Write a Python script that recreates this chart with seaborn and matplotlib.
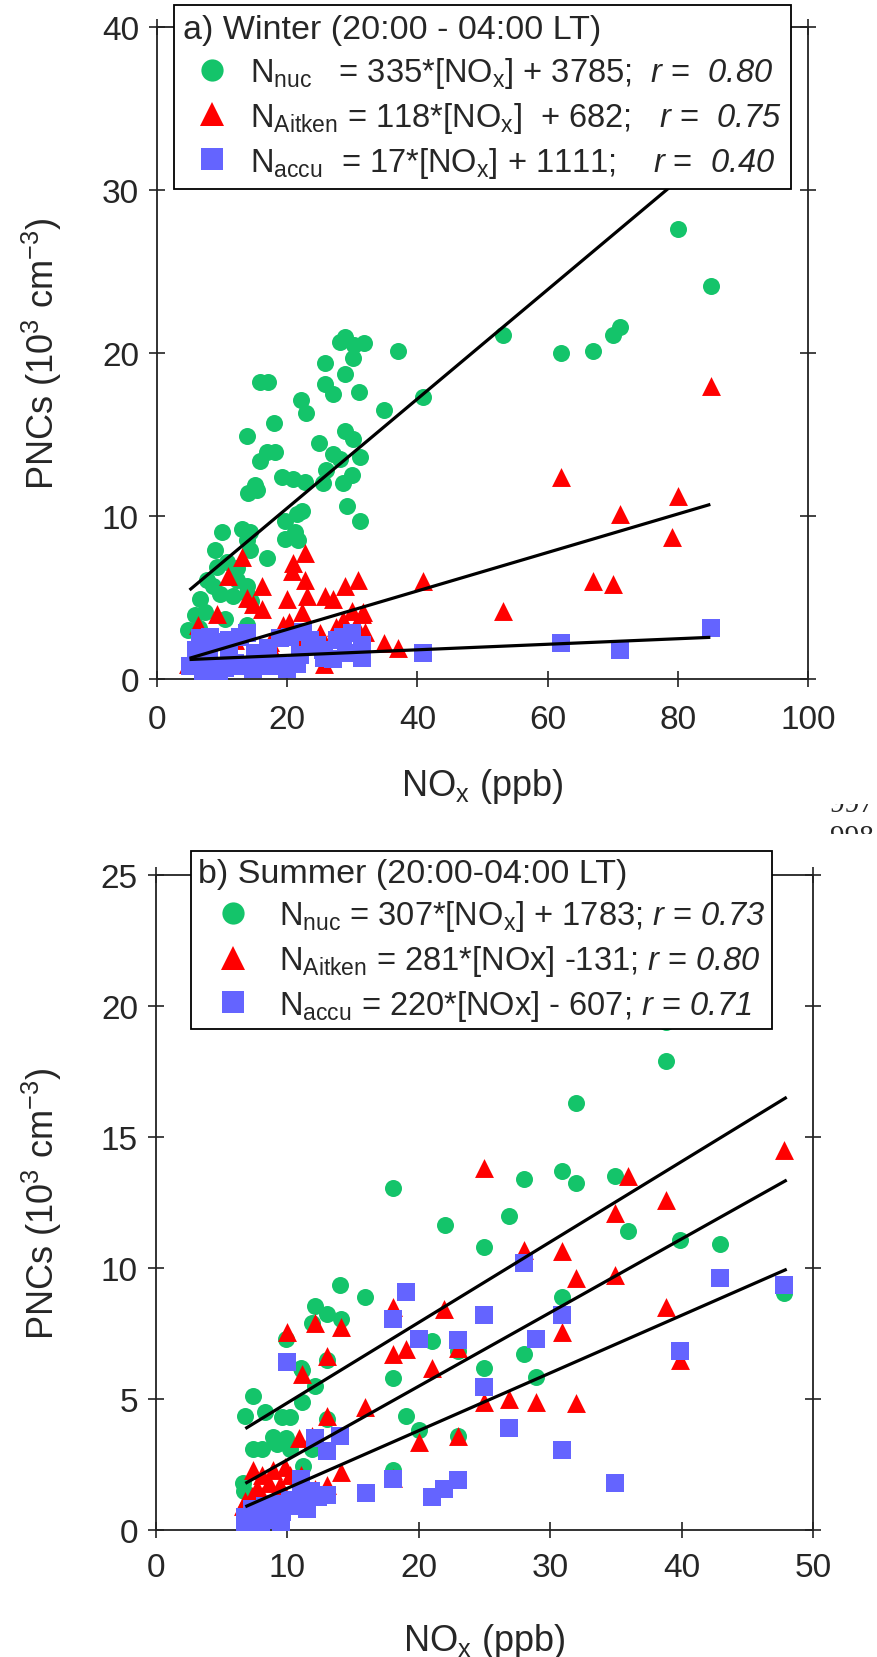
import matplotlib
matplotlib.use("Agg")
import numpy as np
import pandas as pd
import matplotlib.pyplot as plt
import seaborn as sns
from matplotlib.lines import Line2D
from matplotlib.transforms import Bbox

GREEN = "#14C46A"
RED = "#FF0000"
BLUE = "#6464FF"

# ---- a) winter, PNCs in 10^3 cm-3 vs NOx in ppb ----
w_nuc_x = [28.9, 28.1, 30.2, 31.8, 30.1, 25.8, 28.9, 15.8, 17.0, 25.8, 27.0, 31.0, 22.1, 22.9, 18.0,
           13.8, 24.9, 28.9, 30.1, 16.9, 18.1, 15.8, 27.0, 28.1, 31.2, 26.0, 30.0, 19.2, 20.9, 22.7,
           15.1, 28.6, 14.0, 15.4, 25.5, 29.2, 31.2, 22.3, 21.5, 19.7, 19.7, 21.7, 21.2, 10.0, 13.1,
           14.3, 13.8, 8.9, 14.3, 16.9, 9.2, 10.7, 12.3, 7.7, 8.6, 12.3, 13.8, 9.7, 11.7, 13.8,
           14.5, 6.6, 5.8, 7.4, 10.4, 4.8, 6.4, 13.8, 37.0, 53.2, 62.1, 67.0, 70.0, 71.1, 80.0,
           85.1, 34.9, 40.9]
w_nuc_y = [21.0, 20.7, 20.5, 20.6, 19.7, 19.4, 18.7, 18.2, 18.2, 18.1, 17.5, 17.6, 17.1, 16.3, 15.7,
           14.9, 14.5, 15.2, 14.7, 13.9, 13.9, 13.4, 13.8, 13.5, 13.6, 12.8, 12.5, 12.4, 12.3, 12.1,
           11.9, 12.0, 11.4, 11.6, 12.0, 10.6, 9.7, 10.3, 10.1, 9.7, 8.6, 8.5, 9.0, 9.0, 9.2,
           9.0, 8.5, 7.9, 7.9, 7.4, 6.9, 7.2, 6.8, 6.1, 5.7, 6.1, 5.7, 5.2, 5.1, 5.2,
           4.8, 4.9, 3.9, 4.1, 3.7, 3.0, 3.1, 3.3, 20.1, 21.1, 20.0, 20.1, 21.1, 21.6, 27.6,
           24.1, 16.5, 17.3]

w_ait_x = [13.1, 22.7, 20.9, 20.7, 10.9, 22.7, 16.1, 28.9, 30.9, 20.0, 23.0, 25.8, 27.0, 13.8, 14.7,
           16.1, 9.2, 22.3, 30.0, 31.6, 28.5, 30.5, 25.0, 19.4, 20.3, 17.4, 17.6, 32.0, 6.3, 4.7,
           9.3, 25.6, 85.1, 62.1, 80.0, 71.1, 79.1, 67.0, 70.0, 40.9, 53.2, 31.5, 34.8, 37.0, 22.0,
           12.0, 27.5]
w_ait_y = [7.5, 7.7, 7.1, 6.6, 6.3, 6.1, 5.7, 5.7, 6.1, 4.9, 5.1, 5.1, 4.9, 5.0, 4.6,
           4.3, 4.0, 4.1, 4.2, 4.1, 3.6, 3.3, 2.8, 3.3, 3.5, 2.3, 1.8, 2.9, 3.3, 0.9,
           0.7, 0.9, 18.0, 12.4, 11.2, 10.1, 8.7, 6.0, 5.8, 6.0, 4.2, 4.0, 2.2, 1.9, 2.3,
           2.4, 3.2]

w_acc_x = [6.6, 8.1, 9.5, 11.0, 12.8, 13.8, 5.0, 7.0, 8.5, 9.6, 10.5, 13.1, 14.7, 16.5, 18.9,
           20.4, 22.4, 20.0, 19.0, 21.5, 24.6, 25.5, 28.6, 30.0, 25.7, 27.0, 31.5, 27.6, 31.5, 31.5,
           40.9, 62.1, 71.1, 85.1, 8.0, 6.0, 11.0, 15.0, 17.0, 22.0, 29.0, 23.5, 12.0, 6.5, 8.8,
           7.5]
w_acc_y = [2.5, 2.6, 2.3, 2.4, 2.6, 2.8, 0.8, 0.5, 0.4, 0.5, 0.7, 0.8, 0.6, 0.8, 2.5,
           2.6, 2.9, 0.6, 0.8, 0.9, 2.1, 1.8, 2.6, 2.8, 1.3, 1.2, 1.3, 2.4, 2.1, 1.5,
           1.6, 2.2, 1.8, 3.1, 1.5, 1.8, 1.5, 1.6, 1.9, 1.5, 1.6, 2.4, 1.0, 1.2, 0.2,
           0.3]

w_slope = [335, 118, 17]        # cm-3 per ppb
w_icpt = [3785, 682, 1111]      # cm-3
w_fit_x = [5, 85]

# ---- b) summer ----
s_nuc_x = [18.0, 22.0, 14.0, 15.9, 12.1, 13.0, 14.1, 11.9, 9.9, 11.1, 12.1, 11.1, 18.0, 7.4, 6.8,
           8.3, 9.6, 10.2, 13.0, 19.0, 20.0, 21.0, 7.4, 8.1, 8.9, 9.9, 10.2, 11.9, 11.2, 6.6,
           6.7, 18.0, 13.0, 11.0, 9.2, 38.8, 38.8, 32.0, 28.0, 30.9, 32.0, 34.9, 26.9, 25.0, 35.9,
           39.9, 42.9, 47.8, 30.9, 23.0, 25.0, 28.0, 28.9, 23.0]
s_nuc_y = [13.05, 11.65, 9.35, 8.9, 8.55, 8.25, 8.05, 7.9, 7.3, 6.1, 5.5, 4.9, 5.8, 5.1, 4.35,
           4.5, 4.3, 4.3, 4.25, 4.35, 3.8, 7.2, 3.1, 3.1, 3.55, 3.5, 3.1, 3.1, 2.45, 1.8,
           1.5, 2.3, 6.5, 6.2, 3.3, 19.4, 17.9, 16.3, 13.4, 13.7, 13.25, 13.5, 12.0, 10.8, 11.4,
           11.05, 10.9, 9.05, 8.9, 6.85, 6.2, 6.7, 5.85, 3.6]

s_ait_x = [10.0, 12.1, 14.1, 13.0, 11.1, 18.0, 19.0, 18.0, 21.0, 15.9, 13.0, 20.0, 10.9, 11.9, 14.1,
           7.4, 8.1, 8.9, 9.8, 10.2, 11.0, 7.7, 8.6, 9.4, 6.8, 7.3, 8.1, 6.6, 12.1, 13.0,
           18.0, 25.0, 35.9, 47.8, 38.8, 34.9, 28.0, 30.9, 32.0, 34.9, 21.9, 23.0, 30.9, 38.8, 39.9,
           25.0, 26.9, 28.9, 32.0, 23.0]
s_ait_y = [7.55, 7.9, 7.75, 6.65, 5.95, 6.7, 6.9, 8.5, 6.2, 4.7, 4.35, 3.35, 3.5, 3.6, 2.2,
           2.3, 2.1, 2.3, 2.4, 2.1, 2.1, 1.6, 1.8, 1.7, 1.1, 1.3, 1.3, 0.9, 1.55, 1.7,
           2.0, 13.8, 13.5, 14.5, 12.6, 12.1, 10.7, 10.65, 9.6, 9.75, 8.45, 6.95, 7.55, 8.5, 6.5,
           4.9, 5.0, 4.9, 4.85, 3.6]

s_acc_x = [19.0, 18.0, 20.0, 10.0, 12.1, 13.0, 14.0, 18.0, 16.0, 21.0, 13.0, 11.0, 11.0, 11.8, 12.3,
           10.2, 9.1, 8.3, 7.3, 6.8, 6.8, 7.8, 8.8, 9.6, 10.5, 11.5, 9.5, 8.0, 28.0, 42.9,
           47.8, 25.0, 30.9, 28.9, 23.0, 39.9, 25.0, 26.9, 30.9, 34.9, 23.0, 21.9]
s_acc_y = [9.1, 8.05, 7.3, 6.4, 3.5, 3.0, 3.6, 1.95, 1.4, 1.25, 1.35, 1.95, 1.4, 1.5, 1.25,
           1.15, 1.0, 0.9, 0.8, 0.5, 0.25, 0.5, 0.4, 0.7, 0.9, 0.8, 0.2, 0.2, 10.2, 9.6,
           9.35, 8.2, 8.2, 7.3, 7.25, 6.85, 5.45, 3.9, 3.05, 1.8, 1.9, 1.55]

s_slope = [307, 281, 220]
s_icpt = [1783, -131, -607]
s_fit_x = [6.8, 48]

modes = ["nuc", "Aitken", "accu"]
colors = [GREEN, RED, BLUE]
markers = ["o", "^", "s"]
msizes = [150, 185, 150]

w_title = "a) Winter (20:00 - 04:00 LT)"
w_labels = [r"N$_{\mathrm{nuc}}$   = 335*[NO$_{\mathrm{x}}$] + 3785;  $\mathit{r}$ =  $\mathsf{0.80}$",
            r"N$_{\mathrm{Aitken}}$ = 118*[NO$_{\mathrm{x}}$]  + 682;   $\mathit{r}$ =  $\mathsf{0.75}$",
            r"N$_{\mathrm{accu}}$  = 17*[NO$_{\mathrm{x}}$] + 1111;    $\mathit{r}$ =  $\mathsf{0.40}$"]
s_title = "b) Summer (20:00-04:00 LT)"
s_labels = [r"N$_{\mathrm{nuc}}$ = 307*[NO$_{\mathrm{x}}$] + 1783; $\mathit{r}$ = $\mathsf{0.73}$",
            r"N$_{\mathrm{Aitken}}$ = 281*[NOx] -131; $\mathit{r}$ = $\mathsf{0.80}$",
            r"N$_{\mathrm{accu}}$ = 220*[NOx] - 607; $\mathit{r}$ = $\mathsf{0.71}$"]

sns.set_style("ticks")
plt.rcParams["font.family"] = ["Liberation Sans", "DejaVu Sans"]
plt.rcParams["mathtext.fontset"] = "custom"
plt.rcParams["mathtext.rm"] = "Liberation Sans"
plt.rcParams["mathtext.it"] = "Liberation Sans:italic"
plt.rcParams["mathtext.sf"] = "Liberation Sans:italic"
plt.rcParams["mathtext.bf"] = "Liberation Sans:bold"
plt.rcParams["axes.edgecolor"] = "#222222"
plt.rcParams["axes.linewidth"] = 1.3

W, H = 878, 1658
fig = plt.figure(figsize=(W / 100, H / 100), dpi=100)
ax1 = fig.add_axes([157 / W, 1 - 680 / H, (808 - 157) / W, (680 - 28) / H])
ax2 = fig.add_axes([156 / W, 1 - 1531 / H, (813 - 156) / W, (1531 - 876) / H])


def make_df(xs, ys):
    parts = []
    for m, x, y in zip(modes, xs, ys):
        parts.append(pd.DataFrame({"NOx": x, "PNC": y, "mode": m}))
    return pd.concat(parts, ignore_index=True)


def draw_panel(ax, df, slope, icpt, fit_x, xmax, ymax, xstep, ystep, xpad):
    for m, c, mk, s in zip(modes, colors, markers, msizes):
        sub = df[df["mode"] == m]
        sns.scatterplot(data=sub, x="NOx", y="PNC", color=c, marker=mk, s=s,
                        linewidth=0, ax=ax, legend=False, zorder=3)
    xs = np.array(fit_x, dtype=float)
    for a, b in zip(slope, icpt):
        ax.plot(xs, (a * xs + b) / 1000.0, color="black", lw=2.3, zorder=5,
                solid_capstyle="butt")
    ax.set_xlim(0, xmax)
    ax.set_ylim(0, ymax)
    ax.set_xticks(np.arange(0, xmax + 0.1, xstep))
    ax.set_yticks(np.arange(0, ymax + 0.1, ystep))
    ax.tick_params(direction="inout", length=12, width=1.2, color="#222222",
                   top=True, right=True, labelsize=24)
    ax.tick_params(axis="x", pad=xpad)
    ax.tick_params(axis="y", pad=7)
    ax.set_xlabel(r"NO$_{\mathrm{x}}$ (ppb)", fontsize=26)
    ax.set_ylabel(r"PNCs (10$^{\mathrm{3}}$ cm$^{\mathrm{-3}}$)", fontsize=26)


def add_legend(ax, title, labels, anchor, bpad, hlen):
    handles = [Line2D([0], [0], marker=mk, ls="none", color=c, markersize=sz,
                      markeredgewidth=0)
               for mk, c, sz in zip(markers, colors, [16, 17, 15.5])]
    leg = ax.legend(handles, labels, title=title, loc="upper left",
                    bbox_to_anchor=anchor, bbox_transform=fig.transFigure,
                    fontsize=23.5, title_fontsize=24.5, alignment="left",
                    frameon=True, fancybox=False, framealpha=1, edgecolor="black",
                    borderpad=bpad, borderaxespad=0, handlelength=hlen,
                    handletextpad=0.3, labelspacing=0.3)
    leg.get_frame().set_linewidth(1.3)
    leg.set_zorder(10)
    return leg


df_w = make_df([w_nuc_x, w_ait_x, w_acc_x], [w_nuc_y, w_ait_y, w_acc_y])
df_s = make_df([s_nuc_x, s_ait_x, s_acc_x], [s_nuc_y, s_ait_y, s_acc_y])

draw_panel(ax1, df_w, w_slope, w_icpt, w_fit_x, 100, 40, 20, 10, 12)
draw_panel(ax2, df_s, s_slope, s_icpt, s_fit_x, 50, 25, 10, 5, 10)

ax1.xaxis.set_label_coords(0.5, -0.133)
ax1.yaxis.set_label_coords(-0.143, 0.5)
ax2.xaxis.set_label_coords(0.5, -0.139)
ax2.yaxis.set_label_coords(-0.140, 0.5)

add_legend(ax1, w_title, w_labels, (174 / W, 1 - 6 / H), 0.28, 1.75)
add_legend(ax2, s_title, s_labels, (191 / W, 1 - 852 / H), 0.2, 2.2)

# cropped manuscript line numbers at the right margin
for txt, base, lo, hi in [("997", 812, 805, 813), ("998", 845, 824, 835)]:
    t = fig.text(830 / W, 1 - base / H, txt, fontsize=21, family="Liberation Serif",
                 va="baseline", ha="left")
    t.set_clip_box(Bbox([[825, H - hi], [W, H - lo]]))
    t.set_clip_on(True)

fig.savefig("out.png", dpi=100)
